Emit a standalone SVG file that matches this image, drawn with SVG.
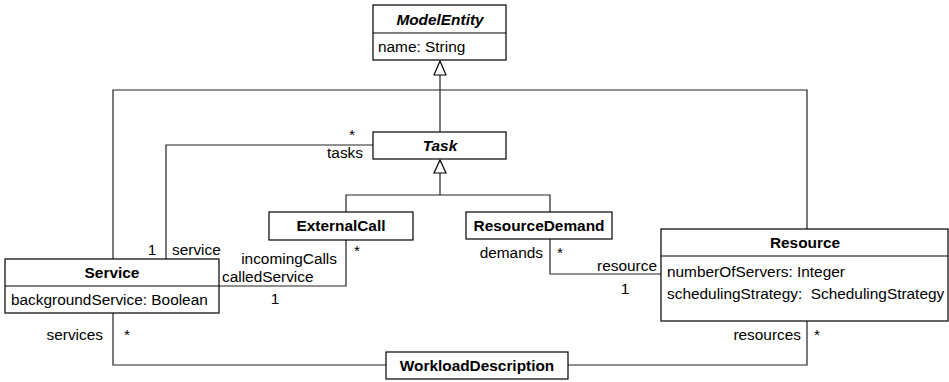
<svg xmlns="http://www.w3.org/2000/svg" width="949" height="382" viewBox="0 0 949 382">
<style>
.box{fill:#fff;stroke:#000;stroke-width:1.2}
.ln{fill:none;stroke:#222;stroke-width:1.2}
.tri{fill:#fff;stroke:#000;stroke-width:1.2}
text{font-family:"Liberation Sans",Arial,sans-serif;font-size:15.4px;fill:#000}
.t{font-weight:bold;text-anchor:middle}
.ti{font-weight:bold;font-style:italic;text-anchor:middle}
.r{text-anchor:end}
.m{text-anchor:middle}
</style>
<g id="connectors">
  <polyline class="ln" points="113,259 113,90 807,90 807,229"/>
  <line class="ln" x1="440" y1="75" x2="440" y2="132"/>
  <polygon class="tri" points="440,61 434,75 446,75"/>
  <polyline class="ln" points="346,212 346,195 550,195 550,212"/>
  <line class="ln" x1="440" y1="173" x2="440" y2="195"/>
  <polygon class="tri" points="440,160 434,173 446,173"/>
  <polyline class="ln" points="373,145 166,145 166,259"/>
  <polyline class="ln" points="346,240 346,286 219,286"/>
  <polyline class="ln" points="550,239 550,274 661,274"/>
  <polyline class="ln" points="113,313 113,365 386,365"/>
  <polyline class="ln" points="807,321 807,365 568,365"/>
  <text x="352" y="140" class="m">*</text>
  <text x="363" y="158" class="r">tasks</text>
  <text x="152" y="255" class="m">1</text>
  <text x="172" y="255">service</text>
  <text x="337" y="264" class="r">incomingCalls</text>
  <text x="357" y="256" class="m">*</text>
  <text x="222" y="282">calledService</text>
  <text x="275" y="304" class="m">1</text>
  <text x="543" y="258" class="r">demands</text>
  <text x="560" y="258" class="m">*</text>
  <text x="657" y="271" class="r">resource</text>
  <text x="625" y="294" class="m">1</text>
  <text x="103" y="340" class="r">services</text>
  <text x="127" y="340" class="m">*</text>
  <text x="801" y="340" class="r">resources</text>
  <text x="817" y="340" class="m">*</text>
</g>
<g id="ModelEntity">
  <rect class="box" x="373" y="5" width="133" height="55"/>
  <line class="box" x1="373" y1="33" x2="506" y2="33"/>
  <text x="440" y="25" class="ti">ModelEntity</text>
  <text x="378" y="52">name: String</text>
</g>
<g id="Task">
  <rect class="box" x="373" y="132" width="133" height="27"/>
  <text x="440" y="151" class="ti">Task</text>
</g>
<g id="ExternalCall">
  <rect class="box" x="269" y="212" width="144" height="28"/>
  <text x="341" y="231" class="t">ExternalCall</text>
</g>
<g id="ResourceDemand">
  <rect class="box" x="466" y="212" width="146" height="27"/>
  <text x="539" y="231" class="t">ResourceDemand</text>
</g>
<g id="Service">
  <rect class="box" x="5" y="259" width="214" height="54"/>
  <line class="box" x1="5" y1="286" x2="219" y2="286"/>
  <text x="112" y="278" class="t">Service</text>
  <text x="11" y="305">backgroundService: Boolean</text>
</g>
<g id="Resource">
  <rect class="box" x="661" y="229" width="287" height="92"/>
  <line class="box" x1="661" y1="256" x2="948" y2="256"/>
  <text x="805" y="248" class="t">Resource</text>
  <text x="667" y="277">numberOfServers: Integer</text>
  <text x="667" y="298.5" xml:space="preserve">schedulingStrategy:  SchedulingStrategy</text>
</g>
<g id="WorkloadDescription">
  <rect class="box" x="386" y="352" width="182" height="27"/>
  <text x="477" y="370.5" class="t">WorkloadDescription</text>
</g>
</svg>
